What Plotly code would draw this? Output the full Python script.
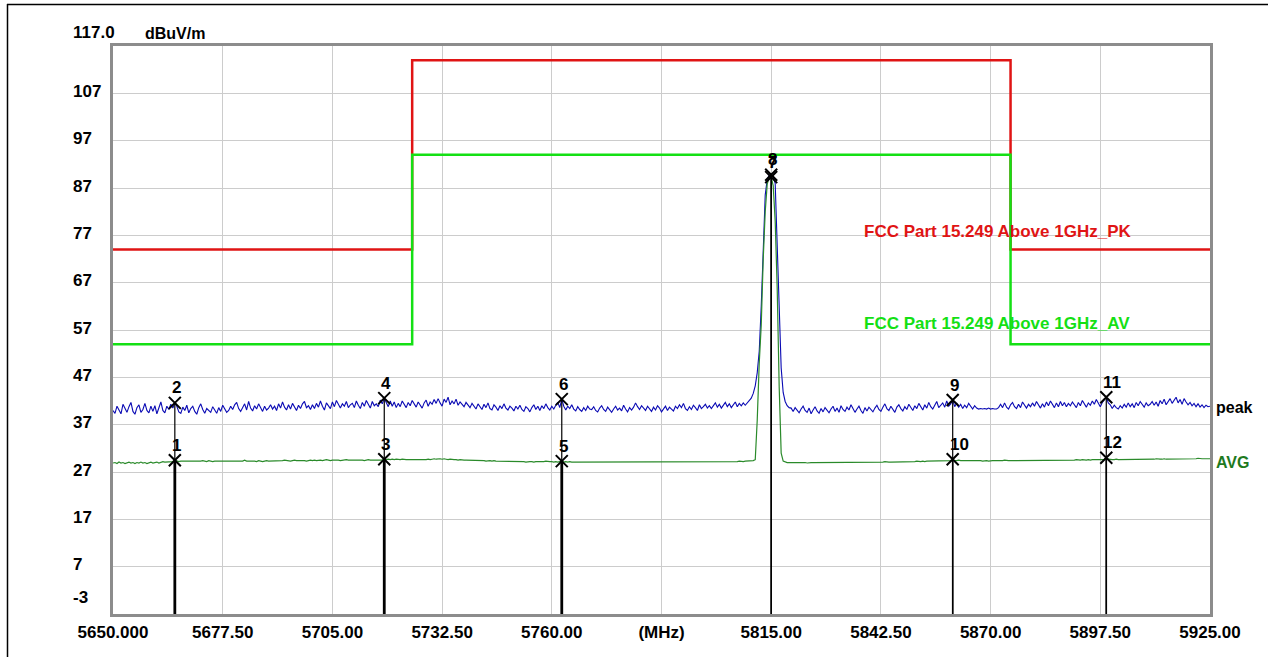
import plotly.graph_objects as go

# ---------------------------------------------------------------------------
# Sweep: 5650 MHz start, 0.5 MHz per point (551 points up to 5925 MHz)
# ---------------------------------------------------------------------------
F_START = 5650.0
F_STEP = 0.5

# Peak detector trace, dBuV/m (10 MHz per row)
PEAK_DBUV = [
    40.0, 39.4, 40.9, 40.1, 39.3, 41.3, 40.3, 39.6, 40.8, 41.7, 39.8, 39.2, 40.6, 41.2, 39.6, 40.2, 41.5, 40.0, 39.5, 40.9,
    39.8, 41.0, 39.3, 40.4, 41.8, 40.0, 39.5, 40.9, 40.2, 41.3, 40.5, 41.6, 40.9, 39.7, 39.4, 40.7, 40.0, 41.1, 39.5, 40.4,
    40.9, 39.8, 39.2, 40.6, 41.4, 40.2, 39.4, 40.4, 40.0, 39.6, 40.8, 40.2, 39.4, 40.6, 39.8, 41.1, 40.4, 39.6, 40.0, 40.9,
    40.2, 41.2, 41.7, 40.4, 39.8, 40.8, 41.4, 40.1, 41.9, 40.5, 39.9, 41.0, 40.3, 41.4, 40.7, 39.8, 40.9, 40.1, 40.5, 41.2,
    40.3, 40.9, 40.0, 41.4, 40.5, 41.8, 40.7, 40.1, 41.2, 40.3, 41.5, 40.8, 40.0, 41.1, 40.4, 41.4, 41.9, 40.6, 41.0, 40.2,
    41.2, 40.4, 41.5, 40.7, 42.0, 40.9, 40.1, 41.6, 41.0, 40.4, 41.8, 40.8, 42.1, 41.2, 40.5, 41.4, 40.9, 41.9, 40.6, 41.2,
    41.5, 40.6, 42.0, 41.1, 40.4, 41.7, 40.9, 42.1, 41.3, 40.5, 41.9, 41.0, 41.4, 40.8, 42.2, 41.4, 42.6, 41.6, 40.8, 42.0,
    40.9, 41.8, 40.6, 41.5, 40.8, 42.0, 41.2, 40.6, 41.7, 41.0, 42.1, 41.3, 40.7, 41.8, 41.1, 40.5, 41.6, 42.2, 40.9, 41.8,
    41.3, 42.3, 41.5, 42.5, 41.6, 40.9, 42.4, 41.7, 42.8, 41.2, 42.0, 41.4, 42.4, 41.1, 41.8, 41.3, 40.8, 41.7, 41.2, 40.6,
    41.5, 40.9, 40.3, 41.4, 40.7, 40.2, 41.3, 40.6, 41.6, 40.4, 40.1, 41.2, 40.7, 40.0, 41.0, 40.4, 41.4, 40.5, 40.1, 40.9,
    40.5, 39.9, 40.9, 40.3, 41.1, 40.2, 39.8, 40.8, 40.4, 39.7, 40.6, 41.2, 40.2, 40.9, 40.0, 41.0, 40.4, 41.4, 40.6, 40.1,
    40.9, 40.3, 41.1, 41.7, 40.6, 42.4, 40.9, 40.1, 40.9, 40.4, 41.2, 40.3, 39.9, 40.8, 40.2, 39.8, 40.6, 40.0, 40.9, 40.3,
    40.2, 40.8, 40.0, 39.7, 40.5, 41.0, 40.2, 39.8, 40.7, 40.0, 39.6, 40.3, 40.9, 40.1, 40.5, 39.9, 41.1, 40.3, 39.7, 40.6,
    40.1, 40.7, 41.6, 40.8, 40.2, 41.0, 40.4, 40.0, 40.9, 40.3, 39.8, 40.7, 40.1, 41.0, 40.5, 39.7, 40.3, 40.9, 40.0, 40.7,
    40.3, 39.9, 40.9, 40.4, 41.2, 40.6, 41.5, 40.4, 40.0, 40.8, 40.2, 41.1, 40.6, 40.0, 41.2, 40.4, 40.8, 41.3, 40.5, 41.0,
    40.4, 41.1, 41.6, 40.7, 41.3, 40.5, 41.0, 41.7, 40.8, 41.4, 40.6, 41.2, 41.8, 40.8, 41.5, 41.0, 41.6, 41.1, 41.6, 42.1,
    42.6, 43.6, 45.2, 48.0, 52.5, 62.0, 75.0, 85.5, 88.8, 89.7, 89.8, 89.3, 88.0, 75.0, 62.0, 49.0, 43.8, 41.9, 41.0, 40.6,
    40.5, 39.8, 40.6, 40.0, 39.5, 40.3, 40.9, 40.0, 39.6, 40.5, 39.3, 40.1, 40.8, 39.9, 39.4, 40.4, 39.7, 40.6, 40.1, 39.5,
    40.3, 40.9, 39.8, 40.5, 39.6, 41.0, 40.2, 39.8, 40.7, 40.1, 41.2, 40.4, 39.6, 40.3, 40.9, 40.0, 39.4, 40.6, 39.9, 40.7,
    40.1, 39.7, 40.5, 41.1, 40.2, 39.8, 40.7, 41.4, 40.4, 40.0, 40.9, 40.2, 39.6, 40.7, 41.2, 40.4, 39.9, 40.8, 40.2, 41.3,
    40.5, 40.0, 41.0, 40.4, 41.5, 40.7, 40.1, 41.2, 40.5, 41.7, 40.8, 40.3, 41.3, 41.9, 40.6, 41.0, 41.6, 40.7, 42.0, 40.9,
    41.4, 42.2, 40.8, 41.6, 40.7, 41.3, 40.4, 41.1, 40.6, 41.5, 40.8, 40.3, 41.0, 40.5, 40.3, 40.4, 40.3, 40.4, 40.3, 40.5,
    40.3, 40.4, 40.3, 40.3, 40.6, 41.3, 40.6, 41.6, 40.7, 40.3, 41.2, 41.7, 40.8, 40.4, 41.3, 40.6, 41.8, 41.0, 40.5, 41.3,
    40.8, 41.6, 40.9, 41.9, 41.1, 40.5, 41.4, 40.7, 41.8, 41.0, 42.0, 41.2, 40.6, 41.6, 40.8, 41.9, 41.0, 41.7, 40.8, 41.5,
    41.0, 41.8, 41.2, 40.6, 41.7, 41.0, 42.1, 41.3, 40.7, 41.6, 41.1, 42.0, 41.3, 42.3, 41.4, 40.8, 41.7, 42.2, 42.8, 41.6,
    41.2, 40.4, 41.1, 40.6, 40.3, 41.0, 40.5, 41.3, 40.7, 41.6, 40.8, 41.4, 40.6, 41.7, 41.0, 41.9, 41.2, 40.7, 41.6, 41.0,
    41.3, 41.9, 41.1, 41.8, 40.9, 42.1, 41.4, 42.4, 41.2, 41.8, 42.5, 41.5, 42.2, 42.8, 41.6, 42.3, 41.3, 42.5, 41.8, 41.2,
    41.7, 41.0, 41.5, 40.8, 41.4, 40.7, 41.2, 40.6, 41.1, 40.8, 40.9,
]

# Average detector trace, dBuV/m (10 MHz per row)
AVG_DBUV = [
    28.9, 29.0, 28.8, 29.1, 28.9, 29.0, 28.8, 29.0, 29.1, 28.9, 29.0, 28.8, 29.0, 28.9, 29.1, 28.9, 29.0, 28.8, 29.0, 29.1,
    28.9, 29.0, 29.1, 28.9, 29.0, 29.2, 29.1, 29.1, 29.2, 29.1, 29.2, 29.5, 29.3, 29.2, 29.3, 29.3, 29.3, 29.3, 29.2, 29.3,
    29.3, 29.3, 29.3, 29.3, 29.3, 29.4, 29.3, 29.2, 29.4, 29.3, 29.2, 29.3, 29.3, 29.3, 29.3, 29.4, 29.3, 29.3, 29.3, 29.3,
    29.3, 29.4, 29.3, 29.3, 29.3, 29.3, 29.5, 29.3, 29.3, 29.3, 29.4, 29.3, 29.2, 29.4, 29.3, 29.2, 29.3, 29.4, 29.3, 29.3,
    29.4, 29.3, 29.4, 29.4, 29.3, 29.4, 29.5, 29.4, 29.4, 29.3, 29.4, 29.5, 29.4, 29.4, 29.4, 29.5, 29.4, 29.3, 29.4, 29.5,
    29.4, 29.5, 29.4, 29.5, 29.5, 29.4, 29.5, 29.6, 29.5, 29.4, 29.5, 29.5, 29.6, 29.5, 29.4, 29.5, 29.5, 29.6, 29.5, 29.5,
    29.5, 29.6, 29.5, 29.5, 29.6, 29.5, 29.4, 29.5, 29.6, 29.5, 29.5, 29.6, 29.5, 29.5, 29.6, 29.5, 29.7, 29.6, 29.7, 29.6,
    29.7, 29.6, 29.7, 29.6, 29.6, 29.7, 29.6, 29.6, 29.6, 29.6, 29.6, 29.6, 29.6, 29.6, 29.5, 29.6, 29.6, 29.6, 29.7, 29.6,
    29.7, 29.8, 29.7, 29.8, 29.8, 29.7, 29.8, 29.7, 29.6, 29.7, 29.6, 29.6, 29.6, 29.5, 29.6, 29.5, 29.5, 29.5, 29.5, 29.5,
    29.5, 29.4, 29.5, 29.4, 29.4, 29.4, 29.4, 29.3, 29.4, 29.4, 29.3, 29.4, 29.3, 29.3, 29.3, 29.3, 29.3, 29.3, 29.2, 29.3,
    29.3, 29.2, 29.2, 29.2, 29.2, 29.2, 29.2, 29.1, 29.2, 29.2, 29.2, 29.1, 29.2, 29.2, 29.1, 29.2, 29.2, 29.3, 29.2, 29.2,
    29.2, 29.1, 29.2, 29.1, 29.2, 29.3, 29.1, 29.2, 29.1, 29.2, 29.1, 29.1, 29.2, 29.1, 29.2, 29.1, 29.1, 29.1, 29.2, 29.1,
    29.1, 29.1, 29.2, 29.1, 29.1, 29.1, 29.1, 29.2, 29.1, 29.1, 29.1, 29.1, 29.1, 29.2, 29.1, 29.1, 29.1, 29.2, 29.1, 29.1,
    29.1, 29.1, 29.2, 29.1, 29.1, 29.2, 29.1, 29.1, 29.1, 29.2, 29.1, 29.1, 29.1, 29.1, 29.2, 29.1, 29.1, 29.1, 29.2, 29.1,
    29.1, 29.2, 29.1, 29.1, 29.1, 29.2, 29.1, 29.1, 29.2, 29.1, 29.1, 29.1, 29.2, 29.1, 29.2, 29.1, 29.1, 29.2, 29.1, 29.2,
    29.2, 29.1, 29.2, 29.2, 29.1, 29.2, 29.2, 29.2, 29.1, 29.2, 29.2, 29.2, 29.2, 29.2, 29.3, 29.2, 29.2, 29.3, 29.3, 29.3,
    29.3, 29.4, 29.6, 38.0, 50.0, 58.0, 72.0, 82.0, 87.8, 89.3, 89.3, 87.5, 80.0, 66.0, 45.0, 31.0, 29.3, 29.1, 29.0, 29.0,
    29.0, 29.0, 29.0, 29.1, 29.0, 29.0, 29.0, 29.0, 28.9, 29.0, 29.0, 29.0, 29.0, 29.0, 29.0, 29.1, 29.0, 29.0, 29.0, 29.0,
    29.0, 29.0, 29.1, 29.0, 29.0, 29.0, 29.0, 29.0, 29.0, 29.1, 29.0, 29.0, 29.0, 29.0, 29.0, 29.0, 29.1, 29.0, 29.0, 29.1,
    29.1, 29.0, 29.1, 29.1, 29.1, 29.1, 29.1, 29.2, 29.1, 29.1, 29.1, 29.1, 29.2, 29.1, 29.1, 29.2, 29.1, 29.2, 29.2, 29.2,
    29.2, 29.2, 29.2, 29.3, 29.2, 29.2, 29.3, 29.2, 29.3, 29.3, 29.3, 29.3, 29.3, 29.4, 29.3, 29.3, 29.4, 29.3, 29.4, 29.4,
    29.4, 29.7, 29.4, 29.4, 29.5, 29.4, 29.4, 29.4, 29.5, 29.4, 29.4, 29.4, 29.4, 29.4, 29.4, 29.4, 29.3, 29.4, 29.4, 29.3,
    29.4, 29.4, 29.4, 29.4, 29.3, 29.4, 29.4, 29.5, 29.4, 29.4, 29.4, 29.4, 29.5, 29.4, 29.4, 29.4, 29.4, 29.4, 29.5, 29.4,
    29.4, 29.4, 29.5, 29.4, 29.4, 29.4, 29.5, 29.4, 29.4, 29.5, 29.4, 29.4, 29.5, 29.4, 29.5, 29.5, 29.4, 29.5, 29.5, 29.5,
    29.5, 29.5, 29.5, 29.6, 29.5, 29.5, 29.6, 29.5, 29.5, 29.6, 29.5, 29.6, 29.6, 29.5, 29.6, 29.6, 29.6, 29.7, 30.0, 29.7,
    29.6, 29.6, 29.6, 29.7, 29.6, 29.6, 29.6, 29.6, 29.7, 29.6, 29.6, 29.7, 29.6, 29.7, 29.6, 29.6, 29.7, 29.7, 29.6, 29.7,
    29.7, 29.7, 29.7, 29.8, 29.7, 29.7, 29.7, 29.8, 29.7, 29.7, 29.8, 29.7, 29.8, 29.8, 29.7, 29.8, 29.8, 29.8, 29.7, 29.8,
    29.8, 29.8, 29.8, 29.8, 29.9, 29.8, 29.8, 29.8, 29.8, 29.9, 29.8,
]

# FCC Part 15.249 limit lines (step shape, value holds until next break)
LIMIT_FREQ = [5650.0, 5725.0, 5875.0, 5925.0]
LIMIT_PK = [74.0, 114.0, 74.0, 74.0]
LIMIT_AV = [54.0, 94.0, 54.0, 54.0]

# Measurement markers
MARKER_NO = [1, 2, 3, 4, 5, 6, 7, 8, 9, 10, 11, 12]
MARKER_FREQ = [5665.5, 5665.5, 5718.0, 5718.0, 5762.5, 5762.5,
               5815.0, 5815.0, 5860.5, 5860.5, 5899.0, 5899.0]
MARKER_LEVEL = [29.5, 41.6, 29.7, 42.6, 29.3, 42.4, 89.3, 89.8, 42.2, 29.7, 42.8, 30.0]
MARKER_DET = ["AV", "PK", "AV", "PK", "AV", "PK", "AV", "PK", "PK", "AV", "PK", "AV"]

# Axes
X_MIN, X_MAX = 5650.0, 5925.0
Y_MIN, Y_MAX = -3.0, 117.0
XTICK_VALS = [5650.0, 5677.5, 5705.0, 5732.5, 5760.0, 5787.5, 5815.0, 5842.5, 5870.0, 5897.5, 5925.0]
XTICK_TEXT = ["5650.000", "5677.50", "5705.00", "5732.50", "5760.00", "(MHz)",
              "5815.00", "5842.50", "5870.00", "5897.50", "5925.00"]
YTICK_VALS = [-3, 7, 17, 27, 37, 47, 57, 67, 77, 87, 97, 107]

FONT = "Liberation Sans, Arial, sans-serif"
W, H = 1268, 657
ML, MR, MT, MB = 113, 58, 46, 43

freqs = [F_START + i * F_STEP for i in range(len(PEAK_DBUV))]
freqs_avg = [F_START + i * F_STEP for i in range(len(AVG_DBUV))]

fig = go.Figure()

# limit lines
fig.add_trace(go.Scatter(x=LIMIT_FREQ, y=LIMIT_PK, mode="lines", line_shape="hv",
                         line=dict(color="#e01414", width=2.5), hoverinfo="skip"))
fig.add_trace(go.Scatter(x=LIMIT_FREQ, y=LIMIT_AV, mode="lines", line_shape="hv",
                         line=dict(color="#14e014", width=2.5), hoverinfo="skip"))

# measured traces
fig.add_trace(go.Scatter(x=freqs, y=PEAK_DBUV, mode="lines",
                         line=dict(color="#0a0ab4", width=1.1), name="peak"))
fig.add_trace(go.Scatter(x=freqs_avg, y=AVG_DBUV, mode="lines",
                         line=dict(color="#2a8a2a", width=1.2), name="AVG"))

# marker drop lines
for f, lv, det, no in zip(MARKER_FREQ, MARKER_LEVEL, MARKER_DET, MARKER_NO):
    if det == "PK":
        w = 1.2
    else:
        w = 2.8 if no in (1, 3, 5) else 1.6
    fig.add_trace(go.Scatter(x=[f, f], y=[lv, Y_MIN], mode="lines",
                             line=dict(color="black", width=w), hoverinfo="skip"))

# marker crosses
fig.add_trace(go.Scatter(x=MARKER_FREQ, y=MARKER_LEVEL, mode="markers",
                         marker=dict(symbol="x-thin-open", size=12, color="black",
                                     line=dict(color="black", width=2)),
                         hoverinfo="skip"))

BOLD = dict(family=FONT, size=17, color="black", weight="bold")

annotations = []
for f, lv, no in zip(MARKER_FREQ, MARKER_LEVEL, MARKER_NO):
    annotations.append(dict(x=f, y=lv, xref="x", yref="y", text=str(no),
                            showarrow=False, xanchor="left", yanchor="middle",
                            xshift=-5, yshift=15, font=BOLD))

# left-aligned level scale (bottom value sits a little above the frame)
for v in YTICK_VALS:
    annotations.append(dict(x=0, y=v, xref="paper", yref="y", text=str(v),
                            showarrow=False, xanchor="left", yanchor="middle",
                            xshift=-42, yshift=17 if v == Y_MIN else 2, font=BOLD))

# limit line captions
annotations.append(dict(x=5837.8, y=77.9, xref="x", yref="y",
                        text="FCC Part 15.249 Above 1GHz_PK", showarrow=False,
                        xanchor="left", yanchor="middle",
                        font=dict(family=FONT, size=17, color="#e01414", weight="bold")))
annotations.append(dict(x=5837.8, y=58.3, xref="x", yref="y",
                        text="FCC Part 15.249 Above 1GHz_AV", showarrow=False,
                        xanchor="left", yanchor="middle",
                        font=dict(family=FONT, size=17, color="#14e014", weight="bold")))

# trace names at the right edge
annotations.append(dict(x=X_MAX, y=40.7, xref="x", yref="y", text="peak",
                        showarrow=False, xanchor="left", yanchor="middle", xshift=4,
                        font=dict(family=FONT, size=16, color="black", weight="bold")))
annotations.append(dict(x=X_MAX, y=29.1, xref="x", yref="y", text="AVG",
                        showarrow=False, xanchor="left", yanchor="middle", xshift=4,
                        font=dict(family=FONT, size=16, color="#1e7a1e", weight="bold")))

# top-left scale caption
annotations.append(dict(x=0, y=1, xref="paper", yref="paper", text="117.0",
                        showarrow=False, xanchor="left", yanchor="bottom",
                        xshift=-42, yshift=2, font=BOLD))
annotations.append(dict(x=0, y=1, xref="paper", yref="paper", text="dBuV/m",
                        showarrow=False, xanchor="left", yanchor="bottom",
                        xshift=30, yshift=2,
                        font=dict(family=FONT, size=16, color="black", weight="bold")))


def px_x(px):
    return (px - ML) / (W - ML - MR)


def px_y(py):
    return (H - MB - py) / (H - MT - MB)


# outer frame (left and top edges visible)
shapes = [
    dict(type="line", xref="paper", yref="paper", x0=px_x(7.5), x1=px_x(7.5),
         y0=px_y(4), y1=px_y(H + 5), line=dict(color="black", width=1.5)),
    dict(type="line", xref="paper", yref="paper", x0=px_x(7), x1=px_x(W + 5),
         y0=px_y(4.5), y1=px_y(4.5), line=dict(color="black", width=1.5)),
]

fig.update_layout(
    width=W, height=H,
    margin=dict(l=ML, r=MR, t=MT, b=MB),
    paper_bgcolor="white", plot_bgcolor="white",
    showlegend=False,
    annotations=annotations,
    shapes=shapes,
    font=BOLD,
)
fig.update_xaxes(range=[X_MIN, X_MAX], tickvals=XTICK_VALS, ticktext=XTICK_TEXT,
                 showgrid=True, gridcolor="#cccccc", gridwidth=1,
                 showline=True, linecolor="#8c8c8c", linewidth=3, mirror=True,
                 ticks="", ticklabelstandoff=1, zeroline=False, tickfont=BOLD)
fig.update_yaxes(range=[Y_MIN, Y_MAX], tickvals=YTICK_VALS, showticklabels=False,
                 showgrid=True, gridcolor="#cccccc", gridwidth=1,
                 showline=True, linecolor="#8c8c8c", linewidth=3, mirror=True,
                 ticks="", zeroline=False)

fig.write_html("out.html")
